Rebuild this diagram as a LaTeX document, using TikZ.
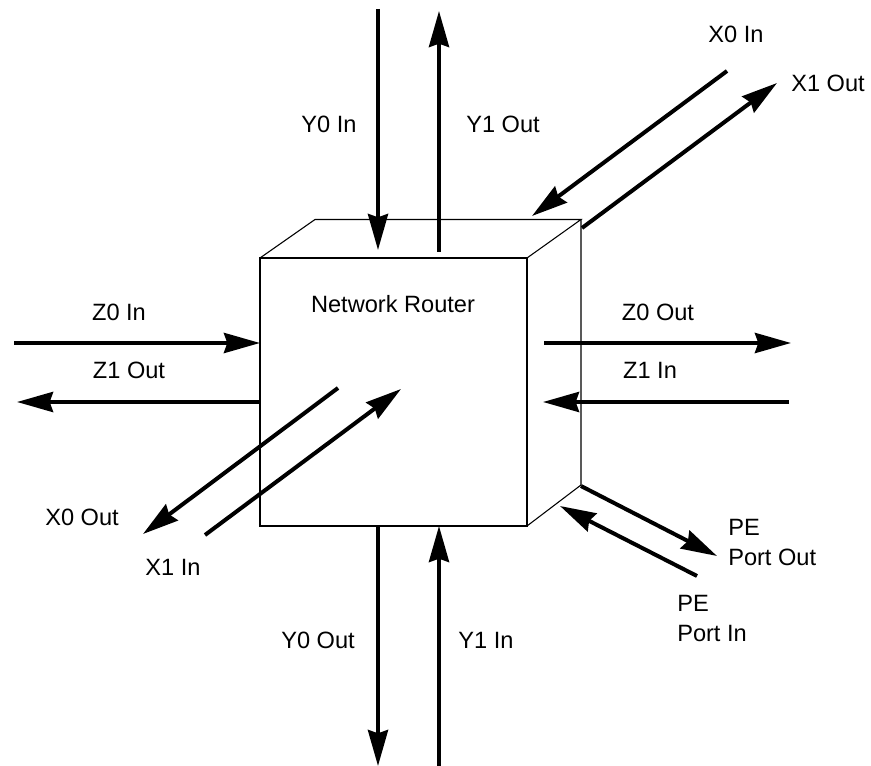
\documentclass[tikz,border=0pt]{standalone}
\usepackage{fontspec}
\setmainfont{Liberation Sans}
\usetikzlibrary{arrows.meta}
\newlength{\du}
\setlength{\du}{0.75pt}
\tikzset{
  portarrow/.style={line width=3pt,-{Stealth[length=27pt,width=15pt,inset=2.5pt]}},
  boxline/.style={line width=0.8pt,line join=miter},
  portlabel/.style={font=\fontsize{17.7}{22.5}\selectfont,inner sep=0pt,align=left},
}
\begin{document}
\begin{tikzpicture}[even odd rule,x=1\du,y=-1\du]
\useasboundingbox (0,0) rectangle (871,766);
% router box
\coordinate (frontnw) at (260,258);
\coordinate (frontne) at (527,258);
\coordinate (frontse) at (527,526);
\coordinate (frontsw) at (260,526);
\coordinate (backnw) at (315,219.5);
\coordinate (backne) at (581,219.5);
\coordinate (backse) at (581,485);
\draw[boxline] (frontnw)--(frontne)--(frontse)--(frontsw)--cycle;
\draw[boxline] (frontnw)--(backnw)--(backne)--(frontne);
\draw[boxline] (backne)--(backse)--(frontse);
\node[portlabel] (routerlabel) at (393,304) {Network Router};
% ends of the arrows
\coordinate (yzeroinA) at (378,9);
\coordinate (yzeroinB) at (378,250);
\coordinate (yoneoutA) at (439,252);
\coordinate (yoneoutB) at (439,11);
\coordinate (xzeroinA) at (727,71);
\coordinate (xzeroinB) at (532,216);
\coordinate (xoneoutA) at (582,228);
\coordinate (xoneoutB) at (777,83);
\coordinate (zzeroinA) at (14,343);
\coordinate (zzeroinB) at (260,343);
\coordinate (zoneoutA) at (260,402);
\coordinate (zoneoutB) at (17,402);
\coordinate (zzerooutA) at (544,343);
\coordinate (zzerooutB) at (791,343);
\coordinate (zoneinA) at (789,402);
\coordinate (zoneinB) at (543,402);
\coordinate (xzerooutA) at (338,388);
\coordinate (xzerooutB) at (143,534);
\coordinate (xoneinA) at (205,535);
\coordinate (xoneinB) at (401,389);
\coordinate (yzerooutA) at (378,526);
\coordinate (yzerooutB) at (378,766);
\coordinate (yoneinA) at (439,766);
\coordinate (yoneinB) at (439,526);
\coordinate (peoutA) at (581,486);
\coordinate (peoutB) at (717,556);
\coordinate (peinA) at (697,576);
\coordinate (peinB) at (560,506);
\foreach \portname in {yzeroin,yoneout,xzeroin,xoneout,zzeroin,zoneout,zzeroout,zonein,xzeroout,xonein,yzeroout,yonein,peout,pein}
  \draw[portarrow] (\portname A)--(\portname B);
% labels
\node[portlabel] (yzeroinlabel) at (329,124) {Y0 In};
\node[portlabel] (yoneoutlabel) at (503,124) {Y1 Out};
\node[portlabel] (xzeroinlabel) at (736,34) {X0 In};
\node[portlabel] (xoneoutlabel) at (828,83) {X1 Out};
\node[portlabel] (zzeroinlabel) at (119,312) {Z0 In};
\node[portlabel] (zoneoutlabel) at (129,370) {Z1 Out};
\node[portlabel] (zzerooutlabel) at (658,312) {Z0 Out};
\node[portlabel] (zoneinlabel) at (650,370) {Z1 In};
\node[portlabel] (xzerooutlabel) at (82,517) {X0 Out};
\node[portlabel] (xoneinlabel) at (173,567) {X1 In};
\node[portlabel] (yzerooutlabel) at (318,640) {Y0 Out};
\node[portlabel] (yoneinlabel) at (486,640) {Y1 In};
\node[portlabel,anchor=west] (peoutlabel) at (728,542) {PE\\Port Out};
\node[portlabel,anchor=west] (peinlabel) at (677,618) {PE\\Port In};
\end{tikzpicture}
\end{document}
